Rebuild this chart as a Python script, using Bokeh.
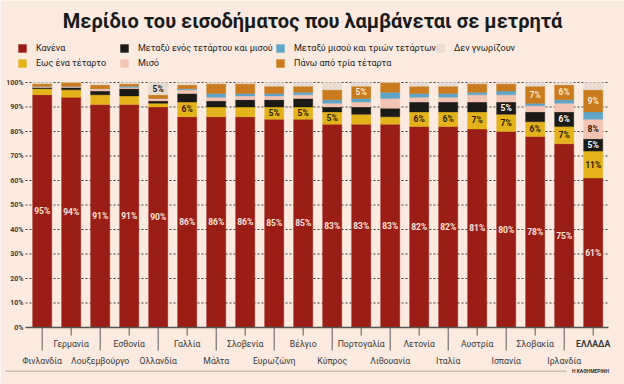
from bokeh.plotting import figure
from bokeh.models import (ColumnDataSource, Range1d, Label, Legend, LegendItem, BoxAnnotation)
from bokeh.core.properties import value
from bokeh.embed import file_html
from bokeh.resources import INLINE

# ---------------- data ----------------
title = "Μερίδιο του εισοδήματος που λαμβάνεται σε μετρητά"
countries = ["Φινλανδία", "Γερμανία", "Λουξεμβούργο", "Εσθονία", "Ολλανδία", "Γαλλία", "Μάλτα",
             "Σλοβενία", "Ευρωζώνη", "Βέλγιο", "Κύπρος", "Πορτογαλία", "Λιθουανία", "Λετονία",
             "Ιταλία", "Αυστρία", "Ισπανία", "Σλοβακία", "Ιρλανδία", "ΕΛΛΑΔΑ"]
series_names = ["Κανένα", "Εως ένα τέταρτο", "Μεταξύ ενός τετάρτου και μισού", "Μισό",
                "Μεταξύ μισού και τριών τετάρτων", "Πάνω από τρία τέταρτα", "Δεν γνωρίζουν"]
kanena       = [95, 94, 91, 91, 90, 86, 86, 86, 85, 85, 83, 83, 83, 82, 82, 81, 80, 78, 75, 61]
ews_tetarto  = [2.5, 3, 4, 3.5, 1.5, 6, 4, 4, 5, 5, 5, 4, 3, 6, 6, 7, 7, 6, 7, 11]
tetarto_miso = [0.5, 1, 1.5, 3, 1, 3.5, 2.5, 3, 3, 3.5, 2, 3, 3.5, 4, 4, 4, 5, 4, 6, 5]
miso         = [0.5, 0.5, 1, 0.5, 1, 1.5, 1.5, 1.5, 1.5, 1.5, 1.5, 2, 4, 2, 2, 3, 3, 2.5, 3.5, 8]
miso_tria    = [0, 0, 0, 0.5, 0, 0.5, 1.5, 1, 1, 1, 1.5, 1.5, 2.5, 1.5, 1.5, 1, 1.5, 1, 1.5, 3]
tria_tetarta = [1, 1.5, 1.5, 1, 1.5, 1.5, 4, 4, 3, 2.5, 4, 5, 4, 3, 3, 3.5, 3, 7, 6, 9]
den_xeroun   = [0.5, 0, 1, 0.5, 5, 1, 0.5, 0.5, 1.5, 1.5, 3, 1.5, 0, 1.5, 1.5, 0.5, 0.5, 1.5, 1, 3]
y_ticks = [0, 10, 20, 30, 40, 50, 60, 70, 80, 90, 100]
y_tick_labels = ["0%", "10%", "20%", "30%", "40%", "50%", "60%", "70%", "80%", "90%", "100%"]
source_text = "Η ΚΑΘΗΜΕΡΙΝΗ"

# ---------------- style / layout ----------------
BG = "#fbeadf"
FONT = "Roboto"
W, H = 624, 384
PX = 29.0            # pixels per category slot
X0 = -41.7 / PX      # left edge of plotting frame in category units
YS = 2.45            # pixels per percent
Y_END = 100 + 82 / YS
Y_START = Y_END - H / YS

def xpx(px):
    return X0 + px / PX

def ypx(py):
    return Y_END - py / YS

keys = ["kanena", "ews_tetarto", "tetarto_miso", "miso", "miso_tria", "tria_tetarta", "den_xeroun"]
colors = ["#9b1e16", "#e4b31b", "#1c1a16", "#f3c4b3", "#5fa5c8", "#c97b1d", "#e7dbd2"]
label_colors = ["#f7e3da", "#2a1c0c", "#ffffff", "#2a1c0c", "#ffffff", "#fbe9cf", "#2a1c0c"]
series = [kanena, ews_tetarto, tetarto_miso, miso, miso_tria, tria_tetarta, den_xeroun]

pos = list(range(len(countries)))
data = {"country": countries, "pos": pos}
for k, s in zip(keys, series):
    data[k] = s
src = ColumnDataSource(data)

p = figure(width=W, height=H,
           x_range=Range1d(X0, X0 + W / PX), y_range=Range1d(Y_START, Y_END),
           output_backend="svg", toolbar_location=None,
           x_axis_location=None, y_axis_location=None,
           min_border_left=0, min_border_right=0, min_border_top=0, min_border_bottom=0,
           background_fill_color=BG, border_fill_color=BG, outline_line_color=None)
p.xgrid.visible = False
p.ygrid.visible = False

# dotted grid lines + solid baseline
gx0 = xpx(25)
gx1 = xpx(608)
p.segment(x0=[gx0] * (len(y_ticks) - 1), y0=y_ticks[1:], x1=[gx1] * (len(y_ticks) - 1), y1=y_ticks[1:],
          line_color="#3c3c3c", line_width=1, line_dash="2 2")

# bars
renderers = p.vbar_stack(keys, x="pos", width=0.66, source=src,
                         fill_color=colors, line_color=colors, line_width=0.4)

p.segment(x0=[gx0], y0=[y_ticks[0]], x1=[gx1], y1=[y_ticks[0]], line_color="#555555", line_width=1.5)

# y tick labels
p.text(x=[xpx(23)] * len(y_ticks), y=y_ticks, text=y_tick_labels, text_font=value(FONT),
       text_font_size="7px", text_font_style="bold", text_color="#3a3a3a",
       text_align="right", text_baseline="middle")

# value labels (>=5%)
lx, ly, lt, lc = [], [], [], []
for i in pos:
    bottom = 0
    for s, col in zip(series, label_colors):
        v = s[i]
        if v >= 5:
            lx.append(i); ly.append(bottom + v / 2); lt.append(f"{v:g}%"); lc.append(col)
        bottom += v
p.text(x="x", y="y", text="text", text_color="color",
       source=ColumnDataSource(dict(x=lx, y=ly, text=lt, color=lc)),
       text_font=value(FONT), text_font_style="bold", text_font_size="8.5px",
       text_align="center", text_baseline="middle")

# category ticks and labels (alternating rows)
tick_end, lab_y, lab_style = [], [], []
for i, c in enumerate(countries):
    upper = (i % 2 == 1)
    tick_end.append(ypx(335) if upper else ypx(350))
    lab_y.append(ypx(343) if upper else ypx(360))
    lab_style.append("bold" if c == "ΕΛΛΑΔΑ" else "normal")
cat_src = ColumnDataSource(dict(x=pos, name=countries, y0=[0] * len(countries), y1=tick_end,
                                ly=lab_y, style=lab_style))
p.segment(x0="x", y0="y0", x1="x", y1="y1", source=cat_src, line_color="#5a5a5a", line_width=1)
p.text(x="x", y="ly", text="name", source=cat_src, text_font=value(FONT),
       text_font_style="style", text_font_size="8.7px", text_color="#3a3a3a",
       text_align="center", text_baseline="middle")

# legend (4 columns)
cols = [([0, 1], 17), ([2, 3], 119), ([4, 5], 275), ([6], 435)]
for idxs, xref in cols:
    items = [LegendItem(label=series_names[j], renderers=[renderers[j]]) for j in idxs]
    h = 11 * len(idxs) + 4 * (len(idxs) - 1)
    lg = Legend(items=items, location=(xref, H - (42 + h)), orientation="vertical",
                glyph_width=10, glyph_height=10, label_standoff=9, spacing=4, padding=0, margin=0,
                label_text_font=FONT, label_text_font_size="9px", label_text_color="#222222",
                background_fill_alpha=0, border_line_alpha=0, label_height=11)
    p.add_layout(lg)

# title
p.add_layout(Label(x=312, y=H - 20, x_units="screen", y_units="screen", text=title,
                   text_align="center", text_baseline="middle", text_font=FONT,
                   text_font_style="bold", text_font_size="20px", text_color="#1a1a1a"))

# bottom rule and source
p.add_layout(BoxAnnotation(left=5, right=566, bottom=H - 371.5, top=H - 370,
                           left_units="screen", right_units="screen", bottom_units="screen",
                           top_units="screen", fill_color="#c9beb6", fill_alpha=1, line_color=None))
p.add_layout(Label(x=590, y=H - 370.5, x_units="screen", y_units="screen", text=source_text,
                   text_align="center", text_baseline="middle", text_font=FONT,
                   text_font_style="bold", text_font_size="5px", text_color="#333333"))

open("out.html", "w").write(file_html(p, INLINE))
